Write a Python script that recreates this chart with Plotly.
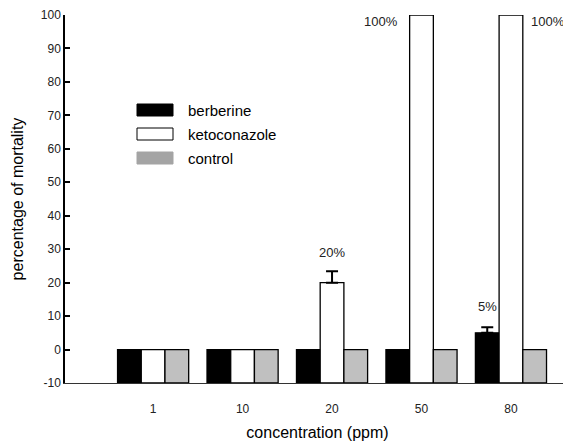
import plotly.graph_objects as go

# ---- data ----
concentrations = ["1", "10", "20", "50", "80"]
series_names = ["berberine", "ketoconazole", "control"]
berberine = [0, 0, 0, 0, 5]
ketoconazole = [0, 0, 20, 100, 100]
control = [0, 0, 0, 0, 0]
berberine_err = [None, None, None, None, 1.7]
ketoconazole_err = [None, None, 3.4, None, None]
control_err = [None, None, None, None, None]
y_tick_vals = [-10, 0, 10, 20, 30, 40, 50, 60, 70, 80, 90, 100]
y_tick_text = ["-10", "0", "10", "20", "30", "40", "50", "60", "70", "80", "90", "100"]
Y_MIN, Y_MAX = -10, 100

bar_labels = [(2, 1, "20%", 29), (4, 0, "5%", 13), (3, 1, "100%", 98), (4, 1, "100%", 98)]

fills = ["#000000", "#ffffff", "#c0c0c0"]
values = [berberine, ketoconazole, control]
errors = [berberine_err, ketoconazole_err, control_err]

x_pos = list(range(len(concentrations)))
BARGAP = 0.205
BAR_W = (1 - BARGAP) / len(series_names)

# bars in the original rise from the bottom of the axis (-10); the value axis is
# expressed relative to Y_MIN and relabelled with the original tick values
def to_axis(v):
    return v - Y_MIN

fig = go.Figure()
for name, vals, col in zip(series_names, values, fills):
    fig.add_trace(go.Bar(
        x=x_pos,
        y=[to_axis(v) for v in vals],
        name=name,
        marker=dict(color=col, line=dict(color="#000000", width=1.3)),
        showlegend=False,
    ))

# upward error bars on top of the grouped bars
for si, (vals, errs) in enumerate(zip(values, errors)):
    ex, ey, ee = [], [], []
    for ci, (v, e) in enumerate(zip(vals, errs)):
        if e is not None:
            ex.append(ci + (si - 1) * BAR_W)
            ey.append(to_axis(v))
            ee.append(e)
    if ex:
        fig.add_trace(go.Scatter(
            x=ex, y=ey, mode="markers",
            marker=dict(size=1, color="rgba(0,0,0,0)"),
            error_y=dict(type="data", array=ee, arrayminus=[0] * len(ee),
                         symmetric=False, color="#000000", thickness=2, width=6),
            showlegend=False, hoverinfo="skip",
        ))

font_fam = "Liberation Sans, Arial, sans-serif"
for ci, si, txt, yv in bar_labels:
    xc = ci + (si - 1) * BAR_W
    if txt == "100%":
        if ci == 3:
            fig.add_annotation(x=xc - BAR_W / 2, y=to_axis(yv), text=txt, showarrow=False,
                               xanchor="right", xshift=-10,
                               font=dict(size=13, color="#222222", family=font_fam))
        else:
            fig.add_annotation(x=xc + BAR_W / 2, y=to_axis(yv), text=txt, showarrow=False,
                               xanchor="left", xshift=6,
                               font=dict(size=13, color="#222222", family=font_fam))
    else:
        fig.add_annotation(x=xc, y=to_axis(yv), text=txt, showarrow=False,
                           font=dict(size=13, color="#222222", family=font_fam))

# page body adds an 8px offset; compensate so the plot lands where the reference has it
OFF = 8
W, H = 571 - OFF, 441 - OFF
L, R, T, B = 65 - OFF, 570 - OFF, 15 - OFF, 383 - OFF
def px_x(p): return (p - OFF - L) / (R - L)
def px_y(p): return (B - (p - OFF)) / (B - T)
leg_rows = [110, 134, 158]
for name, col, yc in zip(series_names, fills, leg_rows):
    sw = "#a4a4a4" if col == "#c0c0c0" else col
    fig.add_shape(type="rect", xref="paper", yref="paper",
                  x0=px_x(137), x1=px_x(173), y0=px_y(yc + 6), y1=px_y(yc - 6),
                  fillcolor=sw,
                  line=dict(color="#000000" if col == "#ffffff" else sw, width=1))
    fig.add_annotation(xref="paper", yref="paper", x=px_x(186), y=px_y(yc),
                       text=name, showarrow=False, xanchor="left", yanchor="middle",
                       font=dict(size=15, color="#000000", family=font_fam))

fig.update_layout(
    template="none",
    width=W, height=H,
    margin=dict(l=L, r=W - R, t=T, b=H - B),
    plot_bgcolor="white", paper_bgcolor="white",
    barmode="group", bargap=BARGAP, bargroupgap=0,
    font=dict(family=font_fam, color="#000000"),
    xaxis=dict(
        range=[-0.985, 4.66], tickvals=x_pos, ticktext=concentrations,
        showline=True, linecolor="#333333", linewidth=1.3,
        ticks="outside", ticklen=14, tickcolor="rgba(0,0,0,0)",
        showgrid=False, zeroline=False,
        tickfont=dict(size=12, color="#222222"),
        title=dict(text="concentration (ppm)", font=dict(size=16)),
    ),
    yaxis=dict(
        range=[to_axis(Y_MIN), to_axis(Y_MAX)],
        tickvals=[to_axis(t) for t in y_tick_vals], ticktext=y_tick_text,
        showline=True, linecolor="#000000", linewidth=1.5,
        ticks="inside", ticklen=5, tickwidth=1.5, tickcolor="#000000",
        showgrid=False, zeroline=False,
        tickfont=dict(size=12, color="#222222"),
        title=dict(text="percentage of mortality", font=dict(size=16)),
    ),
)

fig.write_html("out.html")
